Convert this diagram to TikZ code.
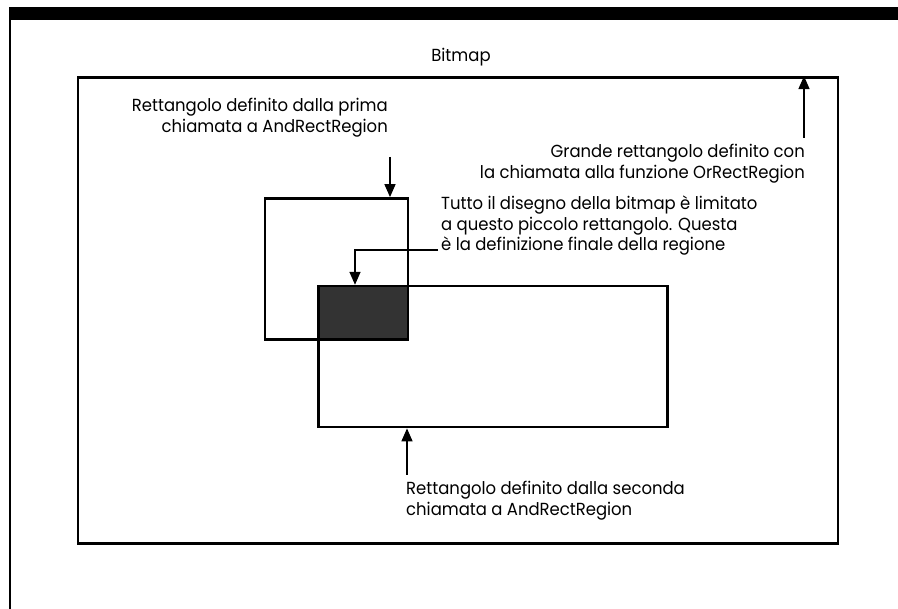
\documentclass[tikz,border=0pt]{standalone}
\usepackage{fontspec}
\setmainfont{Poppins}[FakeStretch=0.94]
\usetikzlibrary{arrows.meta,calc}
\tikzset{
  box/.style={draw=black, line width=2.8pt, fill=none, inner sep=0pt},
  arr/.style={draw=black, line width=1.5pt, -{Triangle[length=13pt,width=11pt]}},
  lbl/.style={inner sep=0pt, font=\fontsize{17.5}{20.5}\selectfont},
}
\begin{document}
\begin{tikzpicture}[x=1pt,y=-1pt]
\useasboundingbox (0,0) rectangle (898,609);
% page frame
\fill[black] (9,7) rectangle (898,20);
\draw[line width=2pt] (10,20) -- (10,609);
% outer bitmap box
\node[box, minimum width=760pt, minimum height=466pt] (outer) at (458,310.5) {};
\node[lbl] (bitmap) at (461,57) {Bitmap};
% rectangles
\node[fill=black!80, inner sep=0pt, minimum width=90pt, minimum height=55pt] (shade) at (363.5,312.5) {};
\node[box, minimum width=143pt, minimum height=141pt] (r1) at (336.5,269) {};
\node[box, minimum width=349pt, minimum height=141pt] (r2) at (493,356.5) {};
% labels
\node[lbl, align=right, anchor=north east] (t1) at (388,98) {Rettangolo definito dalla prima\\chiamata a AndRectRegion};
\node[lbl, align=right, anchor=north east] (t2) at (805,144) {Grande rettangolo definito con\\la chiamata alla funzione OrRectRegion};
\node[lbl, align=left, anchor=north west] (t3) at (441,196) {Tutto il disegno della bitmap è limitato\\a questo piccolo rettangolo. Questa\\è la definizione finale della regione};
\node[lbl, align=left, anchor=north west] (t4) at (406,481) {Rettangolo definito dalla seconda\\chiamata a AndRectRegion};
% arrows
\coordinate (a1) at (390,157);
\draw[arr] (a1) -- (a1 |- r1.north);
\coordinate (a2) at (804,138);
\draw[arr] (a2) -- (a2 |- outer.north);
\coordinate (a3) at (438,250);
\coordinate (a3b) at (355,250);
\draw[arr] (a3) -- (a3b) -- (a3b |- shade.north);
\coordinate (a4) at (407,475);
\draw[arr] (a4) -- (a4 |- r2.south);
\end{tikzpicture}
\end{document}
